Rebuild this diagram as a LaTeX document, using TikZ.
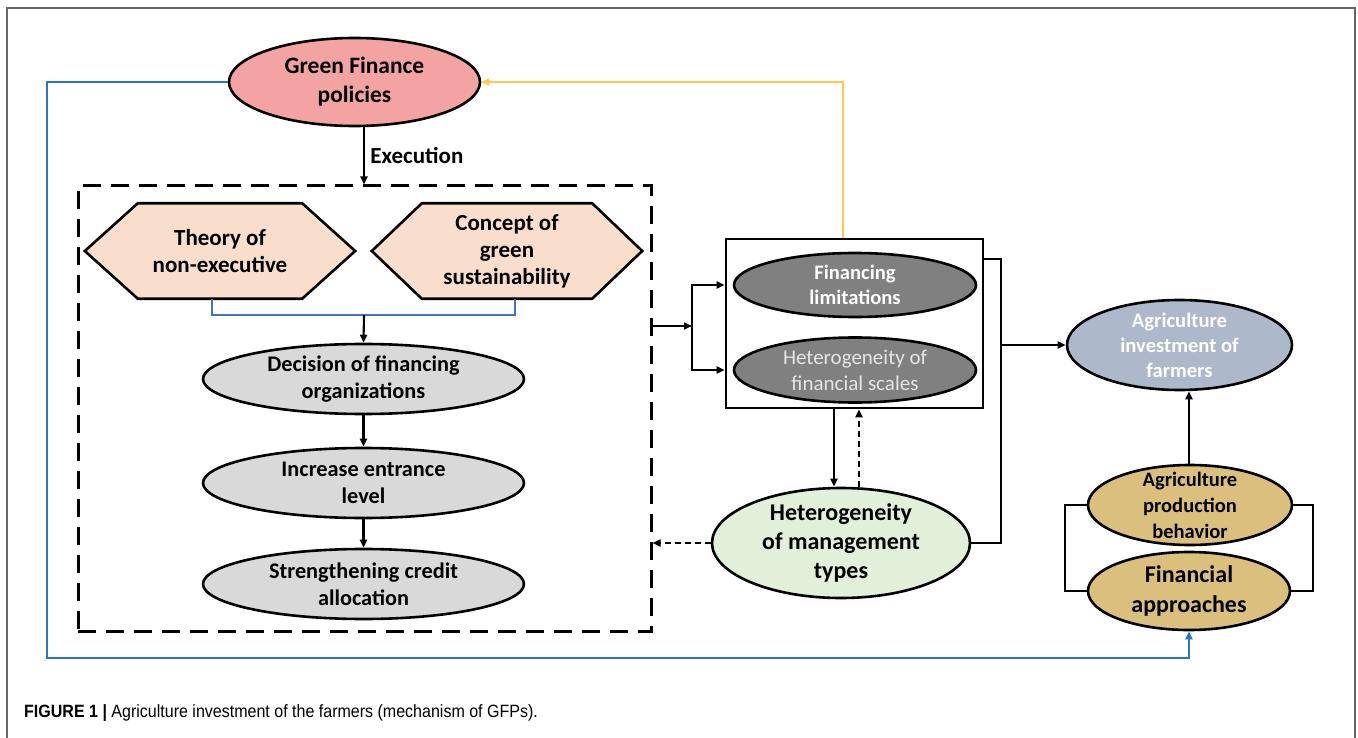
\documentclass[tikz,border=0pt]{standalone}
\usepackage{fontspec}
\setmainfont{Carlito}
\newfontfamily\capfont[FakeStretch=0.9]{Liberation Sans}
\usetikzlibrary{arrows.meta,shapes.geometric,backgrounds,calc}
\newcommand{\myfs}[2]{\fontsize{#1}{#2}\selectfont}
\definecolor{pinkF}{HTML}{F4A3A3}
\definecolor{peachF}{HTML}{F9DECB}
\definecolor{grayF}{HTML}{D9D9D9}
\definecolor{darkF}{HTML}{808080}
\definecolor{greenF}{HTML}{E2EFD9}
\definecolor{bgrayF}{HTML}{ADB9CA}
\definecolor{goldF}{HTML}{DAC07C}
\definecolor{blueL}{HTML}{2478C8}
\definecolor{brkL}{HTML}{4472C4}
\definecolor{yelL}{HTML}{FFC84A}
\definecolor{frameC}{HTML}{666666}
\begin{document}
\begin{tikzpicture}[x=1pt,y=-1pt,
  ell/.style={ellipse, draw=black, line width=2.6pt, inner sep=0pt},
  hexs/.style={draw=black, line width=2.6pt, fill=peachF, line join=miter},
  arr/.style={-{Triangle[length=8pt,width=7pt]}, line width=2.1pt},
  plain/.style={line width=2.3pt},
  dashedarr/.style={-{Triangle[length=8pt,width=7pt]}, line width=2.1pt, dash pattern=on 6pt off 4pt},
  txt/.style={align=center, font=\bfseries}
]
\useasboundingbox (0,0) rectangle (1358,738);
% frame
\draw[frameC, line width=1.8pt] (7,738) -- (7,8) -- (1355,8) -- (1355,738);

% Green finance
\node[ell, fill=pinkF, minimum width=251pt, minimum height=88pt,
  label={[txt, font=\bfseries\myfs{23.5}{29}]center:Green Finance\\policies}] (gf) at (354.5,82) {};

% dashed box
\node[draw=black, line width=3pt, dash pattern=on 18pt off 10pt, minimum width=573pt, minimum height=445pt, inner sep=0pt] (dbox) at (364.5,408.5) {};

% hexagons
\node[inner sep=0pt, minimum width=270pt, minimum height=95pt, txt, font=\bfseries\myfs{23}{27}] (h1) at (220,251) {Theory of\\non-executive};
\node[inner sep=0pt, minimum width=270pt, minimum height=95pt, txt, font=\bfseries\myfs{23}{27}] (h2) at (507,251) {Concept of\\green\\sustainability};
\begin{scope}[on background layer]
\draw[hexs] (h1.west) -- ([xshift=53pt]h1.north west) -- ([xshift=-53pt]h1.north east) -- (h1.east) -- ([xshift=-53pt]h1.south east) -- ([xshift=53pt]h1.south west) -- cycle;
\draw[hexs] (h2.west) -- ([xshift=50pt]h2.north west) -- ([xshift=-50pt]h2.north east) -- (h2.east) -- ([xshift=-50pt]h2.south east) -- ([xshift=50pt]h2.south west) -- cycle;
\end{scope}

% gray ellipses
\node[ell, fill=grayF, minimum width=321pt, minimum height=70pt,
  label={[txt, font=\bfseries\myfs{22.3}{27}]center:Decision of financing\\organizations}] (dec) at (363.5,379) {};
\node[ell, fill=grayF, minimum width=321pt, minimum height=70pt,
  label={[txt, font=\bfseries\myfs{22.3}{27}]center:Increase entrance\\level}] (inc) at (363.5,483) {};
\node[ell, fill=grayF, minimum width=321pt, minimum height=70pt,
  label={[txt, font=\bfseries\myfs{22.3}{27}]center:Strengthening credit\\allocation}] (str) at (363.5,584) {};

% box with dark ellipses
\node[draw=black, line width=2.6pt, minimum width=257pt, minimum height=169pt, inner sep=0pt] (box) at (854.5,323.5) {};
\node[ell, fill=darkF, minimum width=242pt, minimum height=64pt,
  label={[txt, text=white, font=\bfseries\myfs{20.6}{25}]center:Financing\\limitations}] (fl) at (855,285) {};
\node[ell, fill=darkF, minimum width=242pt, minimum height=65pt,
  label={[align=center, text=black!10, font=\myfs{21}{26}]center:Heterogeneity of\\financial  scales}] (hf) at (855,370) {};

% green ellipse
\node[ell, fill=greenF, minimum width=258pt, minimum height=110pt,
  label={[txt, font=\bfseries\myfs{24}{29}]center:Heterogeneity\\of management\\types}] (ge) at (841,543) {};

% agriculture investment
\node[ell, fill=bgrayF, minimum width=225pt, minimum height=90pt,
  label={[txt, text=white, font=\bfseries\myfs{20.6}{25}]center:Agriculture\\investment of\\farmers}] (ai) at (1179.5,345) {};

% gold ellipses
\node[ell, fill=goldF, minimum width=204pt, minimum height=80pt,
  label={[txt, font=\bfseries\myfs{20.5}{26}]center:Agriculture\\production\\behavior}] (apb) at (1190,505) {};
\node[ell, fill=goldF, minimum width=202pt, minimum height=78pt,
  label={[txt, font=\bfseries\myfs{24}{30}]center:Financial\\approaches}] (fa) at (1189,591) {};

% coordinates
\coordinate (bl) at (47,658);
\coordinate (yx) at (843,0);
\coordinate (ax) at (364,0);
\coordinate (bj) at (364,315);
\coordinate (fj) at (692,326);
\coordinate (r1) at (1001,259);
\coordinate (r2) at (1001,345);
\coordinate (dx1) at (834,0);
\coordinate (dx2) at (859,0);
\coordinate (gl) at (1065,0);
\coordinate (gr) at (1313,0);
\coordinate (gx) at (1189,0);

% blue feedback line
\draw[blueL, line width=2.8pt, -{Triangle[length=8pt,width=7pt]}] (gf.west) -| (bl) -| (fa.south);
% yellow line
\draw[yelL, line width=2.3pt, -{Triangle[length=8pt,width=7pt]}] (box.north -| yx) |- (gf.east);
% execution
\draw[arr] (gf.south -| ax) -- (dbox.north -| ax) node[midway, right, font=\bfseries\myfs{23}{25}, xshift=2pt] {Execution};
% hexagon bracket
\draw[brkL, line width=2pt] ([xshift=-8pt]h1.south) |- (bj) -| ([xshift=8pt]h2.south);
\draw[arr] (bj) -- (dec.north);
\draw[arr] (dec) -- (inc);
\draw[arr] (inc) -- (str);
% to box
\draw[arr] (dbox.east |- fj) -- (fj);
\draw[arr] (fj) |- (box.west |- fl);
\draw[arr] (fj) |- (box.west |- hf);
% box to right
\draw[plain] (box.east |- r1) -- (r1) |- (ge.east);
\draw[arr] (r2) -- (ai.west);
% box <-> green
\draw[arr] (box.south -| dx1) -- (ge.north -| dx1);
\draw[dashedarr] (ge.north -| dx2) -- (box.south -| dx2);
\draw[dashedarr] (ge.west) -- (dbox.east |- ge.west);
% gold
\draw[arr] (apb.north -| gx) -- (ai.south -| gx);
\draw[plain] (apb.west) -- (apb.west -| gl) |- (fa.west);
\draw[plain] (apb.east) -- (apb.east -| gr) |- (fa.east);

% caption
\node[anchor=west, inner sep=0pt, font=\capfont\myfs{17.8}{20}] (cap) at (24,713) {\textbf{FIGURE 1 |} Agriculture investment of the farmers (mechanism of GFPs).};
\end{tikzpicture}
\end{document}
